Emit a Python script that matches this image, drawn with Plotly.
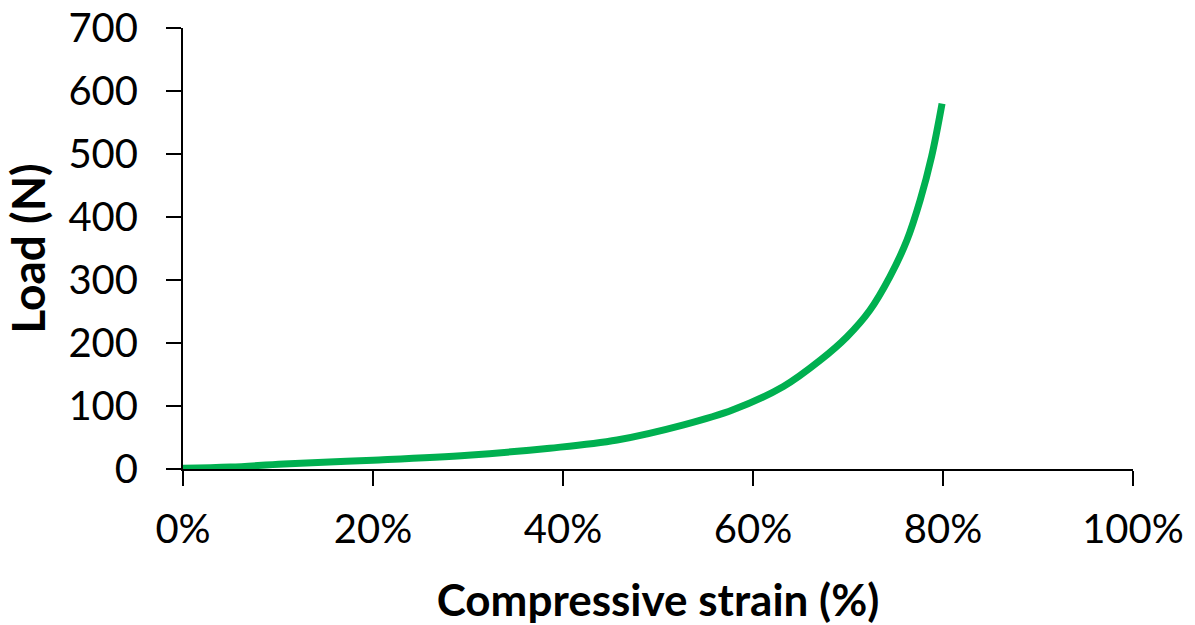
import plotly.graph_objects as go

strain = [0.0, 0.05, 0.106, 0.2, 0.3, 0.386, 0.457, 0.527, 0.579, 0.632, 0.671, 0.699, 0.723, 0.744, 0.762, 0.776, 0.788, 0.799]
load = [1, 3, 8, 14, 22, 33, 46, 70, 94, 131, 173, 210, 252, 305, 363, 427, 496, 580]

x_ticks = [0, 0.2, 0.4, 0.6, 0.8, 1.0]
y_ticks = [0, 100, 200, 300, 400, 500, 600, 700]

FONT = "Lato"

fig = go.Figure()
fig.add_trace(go.Scatter(
    x=strain, y=load, mode="lines",
    line=dict(color="#00B050", width=7, shape="spline", smoothing=1.0),
    showlegend=False, hoverinfo="skip",
))

axis_common = dict(
    showgrid=False, zeroline=False, showline=True, linecolor="black", linewidth=2,
    ticks="outside", tickcolor="black", tickwidth=2, ticklen=15,
    tickfont=dict(family=FONT, size=40, color="black"),
    automargin=False, ticklabeloverflow="allow",
)

fig.update_layout(
    width=1195, height=625,
    margin=dict(l=183, r=62, t=28, b=156),
    paper_bgcolor="white", plot_bgcolor="white",
    xaxis=dict(range=[0, 1], tickvals=x_ticks, tickformat=".0%",
               ticklabelstandoff=9,
               title=dict(text="<b>Compressive strain (%)</b>", font=dict(family=FONT, size=44, color="black"), standoff=38),
               **axis_common),
    yaxis=dict(range=[0, 700], tickvals=y_ticks,
               ticklabelstandoff=20,
               title=dict(text="<b>Load (N)</b>", font=dict(family=FONT, size=46, color="black"), standoff=16),
               **axis_common),
)

fig.write_html("out.html", config={"displayModeBar": False},
               post_script="document.body.style.margin='0';")
